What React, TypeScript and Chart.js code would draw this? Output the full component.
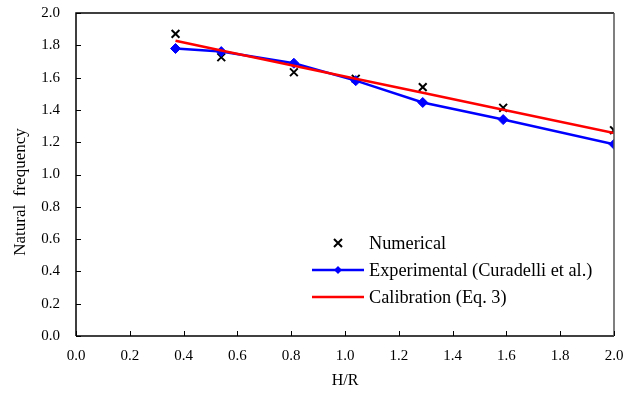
import React, { useEffect, useRef } from "react";
import { Chart, registerables } from "chart.js";

Chart.register(...registerables);

const hrValues = [0.37, 0.54, 0.81, 1.04, 1.289, 1.588, 2.0];
const numerical = [1.871, 1.726, 1.633, 1.593, 1.541, 1.413, 1.274];
const experimental = [1.78, 1.761, 1.689, 1.581, 1.446, 1.34, 1.187];
const calibration = [1.828, 1.768, 1.673, 1.593, 1.506, 1.401, 1.257];

const seriesNames = ["Numerical", "Experimental (Curadelli et al.)", "Calibration (Eq. 3)"];
const xTitle = "H/R";
const yTitle = "Natural  frequency";

const FONT = "'Liberation Serif', 'Times New Roman', serif";

const decorPlugin = {
  id: "decor",
  afterDraw(chart: any) {
    const { ctx, chartArea: a, scales } = chart;
    ctx.save();
    // box
    ctx.lineWidth = 1.5;
    ctx.strokeStyle = "#000";
    ctx.beginPath();
    ctx.moveTo(a.left, a.bottom);
    ctx.lineTo(a.left, a.top);
    ctx.lineTo(a.right, a.top);
    ctx.stroke();
    ctx.beginPath();
    ctx.moveTo(a.left, a.bottom);
    ctx.lineTo(a.right, a.bottom);
    ctx.stroke();
    ctx.strokeStyle = "#555";
    ctx.beginPath();
    ctx.moveTo(a.right, a.top);
    ctx.lineTo(a.right, a.bottom);
    ctx.stroke();
    // inward ticks
    ctx.strokeStyle = "#000";
    ctx.lineWidth = 1;
    scales.x.ticks.forEach((t: any) => {
      const px = Math.round(scales.x.getPixelForValue(t.value)) + 0.5;
      ctx.beginPath();
      ctx.moveTo(px, a.bottom);
      ctx.lineTo(px, a.bottom - 5);
      ctx.stroke();
    });
    scales.y.ticks.forEach((t: any) => {
      const py = Math.round(scales.y.getPixelForValue(t.value)) + 0.5;
      ctx.beginPath();
      ctx.moveTo(a.left, py);
      ctx.lineTo(a.left + 5, py);
      ctx.stroke();
    });
    // axis titles
    ctx.fillStyle = "#000";
    ctx.font = `16px ${FONT}`;
    ctx.textAlign = "center";
    ctx.textBaseline = "middle";
    ctx.fillText(xTitle, (a.left + a.right) / 2, 381);
    ctx.save();
    ctx.translate(20.5, 192);
    ctx.rotate(-Math.PI / 2);
    ctx.font = `17px ${FONT}`;
    ctx.fillText(yTitle, 0, 0);
    ctx.restore();
    // legend
    const lx1 = 312, lx2 = 364, mx = 338, tx = 369;
    const rows = [243, 270, 297];
    ctx.font = `18.3px ${FONT}`;
    ctx.textAlign = "left";
    ctx.textBaseline = "middle";
    // Numerical
    ctx.strokeStyle = "#000";
    ctx.lineWidth = 2;
    const r = 4;
    ctx.beginPath();
    ctx.moveTo(mx - r, rows[0] - r);
    ctx.lineTo(mx + r, rows[0] + r);
    ctx.moveTo(mx + r, rows[0] - r);
    ctx.lineTo(mx - r, rows[0] + r);
    ctx.stroke();
    ctx.fillText(seriesNames[0], tx, rows[0] + 1);
    // Experimental
    ctx.strokeStyle = "#0000ff";
    ctx.lineWidth = 2.5;
    ctx.beginPath();
    ctx.moveTo(lx1, rows[1]);
    ctx.lineTo(lx2, rows[1]);
    ctx.stroke();
    ctx.fillStyle = "#0000ff";
    ctx.beginPath();
    ctx.moveTo(mx, rows[1] - 4);
    ctx.lineTo(mx + 4, rows[1]);
    ctx.lineTo(mx, rows[1] + 4);
    ctx.lineTo(mx - 4, rows[1]);
    ctx.closePath();
    ctx.fill();
    ctx.fillStyle = "#000";
    ctx.fillText(seriesNames[1], tx, rows[1] + 1);
    // Calibration
    ctx.strokeStyle = "#ff0000";
    ctx.lineWidth = 2.5;
    ctx.beginPath();
    ctx.moveTo(lx1, rows[2]);
    ctx.lineTo(lx2, rows[2]);
    ctx.stroke();
    ctx.fillText(seriesNames[2], tx, rows[2] + 1);
    ctx.restore();
  },
};

const zeroPad = (s: any) => {
  s.paddingTop = 0;
  s.paddingBottom = 0;
  s.paddingLeft = 0;
  s.paddingRight = 0;
};

export default function App() {
  const ref = useRef<HTMLCanvasElement>(null);
  useEffect(() => {
    if (!ref.current) return;
    const toPts = (ys: number[]) => ys.map((y, i) => ({ x: hrValues[i], y }));
    const chart = new Chart(ref.current, {
      type: "scatter",
      data: {
        datasets: [
          {
            label: seriesNames[2],
            data: toPts(calibration),
            showLine: true,
            borderColor: "#ff0000",
            backgroundColor: "#ff0000",
            borderWidth: 2.5,
            pointRadius: 0,
            pointHoverRadius: 0,
          },
          {
            label: seriesNames[1],
            data: toPts(experimental),
            showLine: true,
            borderColor: "#0000ff",
            backgroundColor: "#0000ff",
            borderWidth: 2.5,
            pointStyle: "rectRot",
            pointRadius: 5,
            pointBorderWidth: 1,
          },
          {
            label: seriesNames[0],
            data: toPts(numerical),
            showLine: false,
            borderColor: "#000",
            backgroundColor: "#000",
            pointStyle: "crossRot",
            pointRadius: 5.5,
            pointBorderWidth: 2,
          },
        ],
      },
      options: {
        animation: false,
        responsive: false,
        maintainAspectRatio: false,
        layout: { padding: { top: 13, right: 12, left: 0, bottom: 0 } },
        plugins: { legend: { display: false }, tooltip: { enabled: false } },
        scales: {
          x: {
            type: "linear",
            min: 0,
            max: 2,
            afterFit: (s: any) => {
              s.height = 58;
              zeroPad(s);
            },
            ticks: {
              stepSize: 0.2,
              padding: 11,
              color: "#000",
              font: { family: FONT, size: 15 },
              maxRotation: 0,
              callback: (v: any) => Number(v).toFixed(1),
            },
            grid: { display: false, drawTicks: false },
            border: { display: false },
          },
          y: {
            type: "linear",
            min: 0,
            max: 2,
            afterFit: (s: any) => {
              s.width = 76;
              zeroPad(s);
            },
            ticks: {
              stepSize: 0.2,
              padding: 16,
              color: "#000",
              font: { family: FONT, size: 15 },
              callback: (v: any) => Number(v).toFixed(1),
            },
            grid: { display: false, drawTicks: false },
            border: { display: false },
          },
        },
      },
      plugins: [decorPlugin],
    });
    return () => chart.destroy();
  }, []);
  return (
    <div style={{ position: "fixed", left: 0, top: 0, width: 626, height: 394, background: "#fff" }}>
      <canvas ref={ref} width={626} height={394} style={{ width: 626, height: 394 }} />
    </div>
  );
}
